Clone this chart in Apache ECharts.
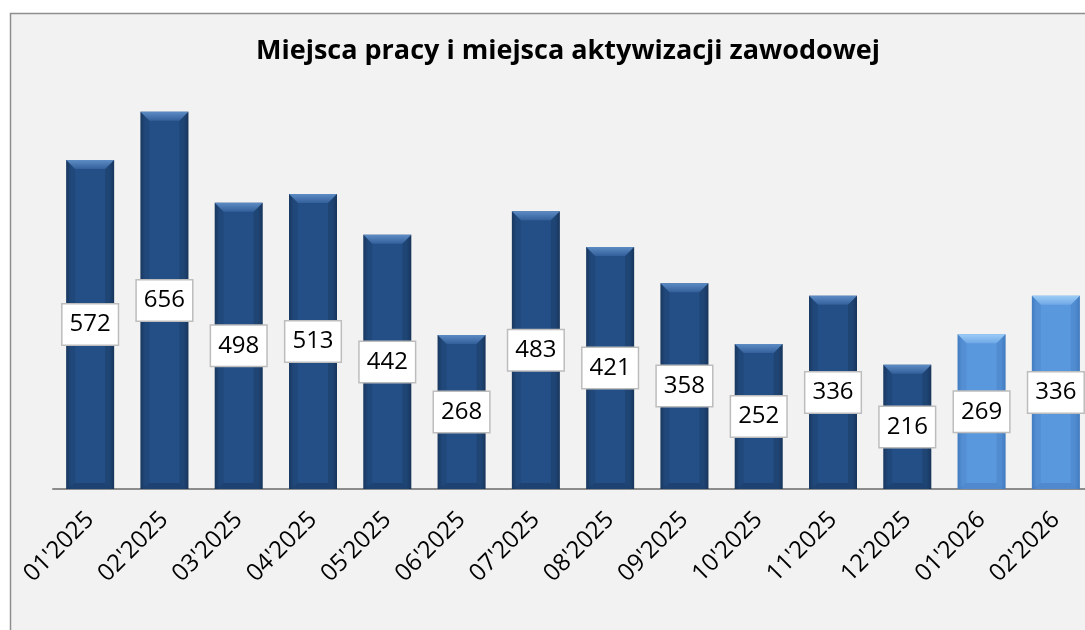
<!DOCTYPE html>
<html><head><meta charset="utf-8">
<script src="https://cdn.jsdelivr.net/npm/echarts@6/dist/echarts.min.js"></script>
<style>html,body{margin:0;padding:0;background:#fff}#c{width:1085px;height:630px}</style>
</head><body><div id="c"></div>
<script>
const categories = ["01'2025","02'2025","03'2025","04'2025","05'2025","06'2025","07'2025","08'2025","09'2025","10'2025","11'2025","12'2025","01'2026","02'2026"];
const values = [572, 656, 498, 513, 442, 268, 483, 421, 358, 252, 336, 216, 269, 336];
const highlighted = [false,false,false,false,false,false,false,false,false,false,false,false,true,true];
const title = 'Miejsca pracy i miejsca aktywizacji zawodowej';

function grad(edge, mid) {
  return {type:'linear', x:0, y:0, x2:1, y2:0, colorStops:[
    {offset:0, color:edge},{offset:0.1, color:mid},{offset:0.9, color:mid},{offset:1, color:edge}]};
}
const darkFill = grad('#1b3d68', '#244f86');
const lightFill = grad('#4682c8', '#5a98de');

const chart = echarts.init(document.getElementById('c'));
chart.setOption({
  backgroundColor: '#ffffff',
  animation: false,
  graphic: [{type:'rect', shape:{x:10.5, y:13.5, width:1200, height:700}, style:{fill:'#f2f2f2', stroke:'#8e8e8e', lineWidth:1.5}, z:-10, silent:true}],
  title: {text: title, left: 563, textAlign: 'center', top: 33,
    textStyle: {fontFamily: 'Open Sans', fontWeight: 'bold', fontSize: 27, color: '#000'}},
  grid: {left: 53, width: 1040, top: 86.5, bottom: 141, containLabel: false, outerBoundsMode: 'none'},
  xAxis: {type:'category', data: categories,
    axisLine:{show:true, lineStyle:{color:'#8c8c8c', width:2}},
    axisTick:{show:false},
    axisLabel:{rotate:45, fontFamily:'Open Sans', fontSize:24, color:'#000', margin:27, interval:0}},
  yAxis: {type:'value', min:0, max:700, show:false, splitLine:{show:false}},
  series: [{
    type:'custom', silent:true, z:2,
    data: values.map((v,i)=>[i,v]),
    renderItem: function(params, api){
      const idx = api.value(0), v = api.value(1);
      const top = api.coord([idx, v]);
      const bot = api.coord([idx, 0]);
      const w = 48, x0 = top[0]-w/2, x1 = top[0]+w/2, y0 = top[1], yb = bot[1];
      const hl = highlighted[idx];
      const b = 9;
      return {type:'group', children:[
        {type:'rect', shape:{x:x0, y:y0, width:w, height:yb-y0}, style:{fill: hl? lightFill : darkFill}},
        {type:'polygon', shape:{points:[[x0,y0],[x1,y0],[x1-b,y0+b],[x0+b,y0+b]]},
          style:{fill:{type:'linear',x:0,y:0,x2:0,y2:1,colorStops:[
            {offset:0,color: hl?'#9cccf7':'#5d8bc4'},{offset:1,color: hl?'#6fa8e6':'#33609a'}]}}},
        {type:'polygon', shape:{points:[[x0,y0],[x0+b,y0+b],[x0+b,yb-6],[x0,yb]]},
          style:{fill: hl?'rgba(40,80,140,0.12)':'rgba(0,0,0,0.08)'}},
        {type:'polygon', shape:{points:[[x1,y0],[x1-b,y0+b],[x1-b,yb-6],[x1,yb]]},
          style:{fill: hl?'rgba(40,80,140,0.16)':'rgba(0,0,0,0.12)'}},
        {type:'polygon', shape:{points:[[x0,yb],[x0+b,yb-6],[x1-b,yb-6],[x1,yb]]},
          style:{fill: hl?'rgba(40,80,140,0.2)':'rgba(0,0,0,0.14)'}}
      ]};
    }
  },{
    type:'bar', barWidth: 48, z:5,
    data: values,
    itemStyle:{color:'rgba(0,0,0,0)'},
    label:{show:true, position:'inside', fontFamily:'Open Sans', fontSize:24, color:'#000',
      backgroundColor:'#ffffff', borderColor:'#bdbdbd', borderWidth:1.5, padding:[9,7,7,7]}
  }]
});
</script></body></html>
